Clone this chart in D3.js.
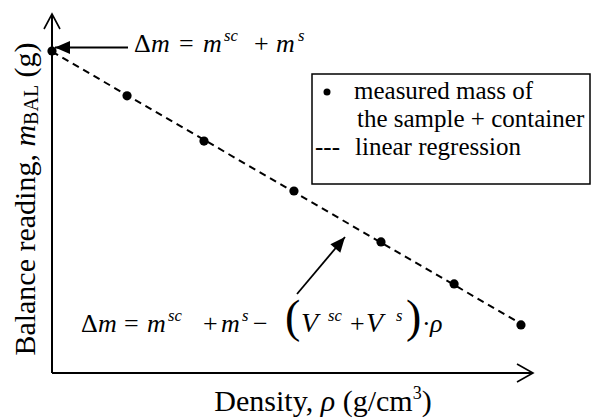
<!DOCTYPE html>
<html><head><meta charset="utf-8">
<script src="https://cdn.jsdelivr.net/npm/d3@7"></script>
<style>body{margin:0;background:#fff}</style>
</head><body>
<script>
// Data (arbitrary units)
const density = [0, 1.56, 3.16, 5.03, 6.84, 8.36, 9.75];
const balance = [8.97, 7.72, 6.46, 5.07, 3.65, 2.48, 1.34];
const legendLabels = ["measured mass of", "the sample + container", "linear regression"];
const xLabel = "Density, ";
const yLabel = "Balance reading, ";

const FONT = "Liberation Serif";
const W = 592, H = 418;
const svg = d3.select("body").append("svg").attr("width", W).attr("height", H).attr("font-family", FONT);
const x = d3.scaleLinear().domain([0, 10]).range([52, 533]);
const y = d3.scaleLinear().domain([0, 10]).range([373, 14]);

// axes
const g = svg.append("g").attr("stroke", "#000").attr("fill", "none").attr("stroke-width", 2);
g.append("line").attr("x1", x(0)).attr("x2", x(10)).attr("y1", y(0)).attr("y2", y(0));
g.append("line").attr("x1", x(0)).attr("x2", x(0)).attr("y1", y(0)).attr("y2", y(10));
g.append("path").attr("stroke-width", 1.6).attr("d", `M${x(10)-16},${y(0)-9}L${x(10)},${y(0)}L${x(10)-16},${y(0)+9}`);
g.append("path").attr("stroke-width", 1.6).attr("d", `M${x(0)-8},${y(10)+15}L${x(0)},${y(10)}L${x(0)+8},${y(10)+15}`);

// regression
const mx = d3.mean(density), my = d3.mean(balance);
const slope = d3.sum(density.map((d, i) => (d - mx) * (balance[i] - my))) / d3.sum(density.map(d => (d - mx) ** 2));
const icpt = my - slope * mx;
const x0 = d3.min(density), x1 = d3.max(density);
svg.append("line").attr("x1", x(x0)).attr("y1", y(icpt + slope * x0)).attr("x2", x(x1)).attr("y2", y(icpt + slope * x1))
  .attr("stroke", "#000").attr("stroke-width", 2).attr("stroke-dasharray", "7,5");

// points
svg.selectAll("circle.pt").data(density).join("circle").attr("class", "pt")
  .attr("cx", d => x(d)).attr("cy", (d, i) => y(balance[i])).attr("r", 4.6).attr("fill", "#000");

// annotation arrows
function arrow(xa, ya, xb, yb) {
  svg.append("line").attr("x1", xa).attr("y1", ya).attr("x2", xb).attr("y2", yb).attr("stroke", "#000").attr("stroke-width", 1.8);
  const ang = Math.atan2(yb - ya, xb - xa), L = 15, hw = 6.5;
  const bx = xb - L * Math.cos(ang), by = yb - L * Math.sin(ang);
  const px = -Math.sin(ang) * hw, py = Math.cos(ang) * hw;
  svg.append("path").attr("d", `M${xb},${yb}L${bx + px},${by + py}L${bx - px},${by - py}Z`).attr("fill", "#000");
}
arrow(128, 47.5, 55, 47.5);
arrow(297, 294, 345, 237);

// math text: pieces placed at explicit x positions along a baseline
function mtext(yb, parts, fs) {
  const t = svg.append("text").attr("y", yb).attr("font-size", fs);
  parts.forEach(p => {
    const s = t.append("tspan").attr("x", p.x).text(p.t);
    if (p.i) s.attr("font-style", "italic");
    const size = p.fs || (p.sup ? fs * 0.64 : fs);
    s.attr("font-size", size).attr("y", p.sup ? yb - fs * 0.42 : yb);
  });
}
const fs = 26;
mtext(52, [{t: "Δ", x: 134}, {t: "m", x: 151, i: 1}, {t: "=", x: 179}, {t: "m", x: 203, i: 1}, {t: "sc", x: 224, i: 1, sup: 1},
  {t: "+", x: 254}, {t: "m", x: 276, i: 1}, {t: "s", x: 298, i: 1, sup: 1}], fs);

mtext(332, [{t: "Δ", x: 81}, {t: "m", x: 98, i: 1}, {t: "=", x: 124}, {t: "m", x: 147, i: 1}, {t: "sc", x: 168, i: 1, sup: 1},
  {t: "+", x: 203}, {t: "m", x: 221, i: 1}, {t: "s", x: 242, i: 1, sup: 1}, {t: "−", x: 253},
  {t: "(", x: 285, fs: 46}, {t: "V", x: 301, i: 1, fs: 28}, {t: "sc", x: 328, i: 1, sup: 1}, {t: "+", x: 350}, {t: "V", x: 366, i: 1, fs: 28},
  {t: "s", x: 396, i: 1, sup: 1}, {t: ")", x: 406, fs: 46}, {t: "·", x: 422}, {t: "ρ", x: 430, i: 1}], fs);

// legend
svg.append("rect").attr("x", 312).attr("y", 74).attr("width", 278).attr("height", 110).attr("fill", "#fff").attr("stroke", "#000").attr("stroke-width", 1.5);
svg.append("circle").attr("cx", 327).attr("cy", 92).attr("r", 3.5).attr("fill", "#000");
svg.append("text").attr("x", 354).attr("y", 99).attr("font-size", 25).text(legendLabels[0]);
svg.append("text").attr("x", 357).attr("y", 127).attr("font-size", 25).text(legendLabels[1]);
svg.append("text").attr("x", 315).attr("y", 155).attr("font-size", 25).text("---");
svg.append("text").attr("x", 355).attr("y", 155).attr("font-size", 25).text(legendLabels[2]);

// axis labels
const xl = svg.append("text").attr("x", 323).attr("y", 411).attr("font-size", 30).attr("text-anchor", "middle");
xl.append("tspan").text(xLabel);
xl.append("tspan").attr("font-style", "italic").text("ρ");
xl.append("tspan").text(" (g/cm");
xl.append("tspan").attr("font-size", 18).attr("dy", -12).text("3");
xl.append("tspan").attr("dy", 12).text(")");

const yl = svg.append("text").attr("transform", "translate(35,199) rotate(-90)").attr("font-size", 30).attr("text-anchor", "middle");
yl.append("tspan").text(yLabel);
yl.append("tspan").attr("font-style", "italic").text("m");
yl.append("tspan").attr("font-size", 20).attr("dy", 3).text("BAL");
yl.append("tspan").attr("dy", -3).text(" (g)");

svg.selectAll("text").style("font-family", `"${FONT}"`).attr("fill", "#000");
</script>
</body></html>
